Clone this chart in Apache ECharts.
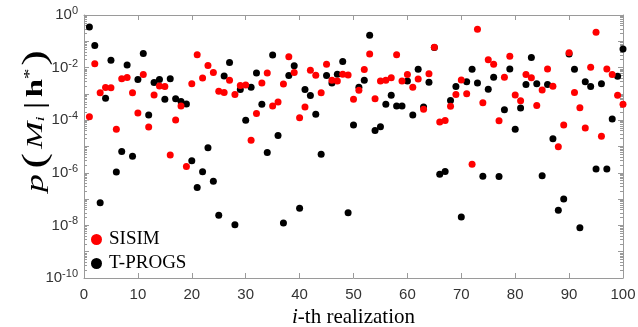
<!DOCTYPE html>
<html>
<head>
<meta charset="utf-8">
<script src="https://cdn.jsdelivr.net/npm/echarts@6/dist/echarts.min.js"></script>
<style>
  html, body { margin: 0; padding: 0; background: #fff; }
  #chart { width: 638px; height: 327px; }
</style>
</head>
<body>
<div id="chart"></div>
<script>
// realization index 1..100
const realization = Array.from({ length: 100 }, (_, k) => k + 1);

// p(M_i | h*)
const sisim = [
  1.35e-4, 1.4e-2, 1.1e-3, 1.74e-3, 1.7e-3, 4.5e-5, 3.8e-3, 4.2e-3, 1.1e-3, 1.86e-4,
  5.5e-3, 5.5e-5, 9.1e-4, 2.0e-3, 1.9e-3, 4.7e-6, 1.02e-4, 3.5e-4, 1.74e-6, 2.45e-3,
  3.1e-2, 4.0e-3, 1.2e-2, 6.5e-3, 1.26e-3, 1.12e-3, 3.3e-3, 9.5e-4, 2.1e-3, 2.2e-3,
  1.74e-5, 1.78e-4, 2.6e-3, 6.3e-3, 3.5e-4, 4.9e-4, 2.4e-3, 2.6e-2, 6.5e-3, 1.23e-4,
  3.2e-4, 7.9e-3, 5.1e-3, 1.1e-3, 1.35e-2, 3.3e-3, 3.1e-3, 5.6e-3, 5.2e-3, 6.3e-4,
  1.38e-3, 8.5e-3, 3.3e-2, 6.5e-4, 3.1e-3, 3.3e-3, 4.1e-3, 3.1e-2, 3.1e-3, 5.5e-3,
  1.78e-3, 3.7e-3, 2.6e-4, 5.9e-3, 6.0e-2, 8.5e-5, 9.8e-5, 3.4e-4, 9.5e-4, 3.4e-3,
  1.02e-3, 2.1e-6, 2.9e-1, 4.6e-4, 2.0e-2, 1.35e-2, 9.5e-5, 4.3e-3, 2.7e-2, 9.1e-4,
  5.5e-4, 5.5e-3, 4.1e-3, 3.6e-4, 1.4e-3, 8.9e-3, 1.95e-3, 9.8e-6, 6.6e-5, 3.7e-2,
  1.12e-3, 3.0e-4, 5.1e-5, 1.02e-2, 2.2e-1, 2.45e-5, 8.9e-3, 5.5e-3, 8.9e-4, 4.0e-4
];
const tprogs = [
  3.5e-1, 6.9e-2, 7.2e-8, 6.9e-4, 1.9e-2, 1.07e-6, 6.5e-6, 1.26e-2, 4.3e-6, 3.5e-3,
  3.4e-2, 1.58e-4, 2.7e-3, 3.5e-3, 6.2e-4, 3.8e-3, 6.6e-4, 5.1e-4, 4.1e-4, 2.9e-6,
  2.75e-7, 1.1e-6, 8.9e-6, 4.8e-7, 2.45e-8, 4.8e-3, 1.55e-2, 1.07e-8, 1.48e-3, 1.0e-4,
  1.8e-3, 6.2e-3, 4.0e-4, 5.9e-6, 3.0e-2, 2.6e-5, 1.23e-8, 5.0e-3, 1.17e-2, 4.5e-8,
  1.48e-3, 8.7e-4, 1.7e-4, 5.1e-6, 5.0e-3, 2.6e-3, 5.6e-3, 1.7e-2, 3.0e-8, 6.6e-5,
  1.8e-3, 3.3e-3, 1.7e-1, 4.1e-5, 5.6e-5, 4.0e-4, 8.9e-4, 3.5e-4, 3.5e-4, 3.1e-3,
  1.58e-4, 8.7e-3, 3.2e-4, 2.75e-3, 5.8e-2, 8.9e-7, 1.12e-6, 5.6e-4, 1.9e-3, 2.1e-8,
  2.9e-3, 8.7e-3, 2.6e-3, 7.4e-7, 1.5e-3, 4.3e-3, 7.2e-7, 2.5e-4, 8.9e-3, 4.5e-5,
  2.9e-4, 2.3e-3, 2.4e-2, 2.45e-3, 7.8e-7, 2.3e-3, 1.95e-5, 3.8e-8, 1.0e-7, 3.3e-2,
  8.7e-3, 8.1e-9, 2.9e-3, 1.9e-3, 1.4e-6, 2.45e-3, 1.4e-6, 1.1e-4, 4.7e-3, 5.1e-2
];

const seriesNames = ['SISIM', 'T-PROGS'];
const xTicks = [0, 10, 20, 30, 40, 50, 60, 70, 80, 90, 100];
const yLabelValues = [1e-10, 1e-8, 1e-6, 1e-4, 1e-2, 1];
const yDecades = [1e-10, 1e-9, 1e-8, 1e-7, 1e-6, 1e-5, 1e-4, 1e-3, 1e-2, 1e-1, 1];
const minorMantissas = [2, 3, 4, 5, 6, 7, 8, 9];

const yMinor = [];
yDecades.slice(0, -1).forEach(d => minorMantissas.forEach(m => yMinor.push(d * m)));

const AXIS_COLOR = '#9a9a9a';
const LABEL_COLOR = '#333';
const SERIF = 'Liberation Serif';

function yAxisBase(extra) {
  return Object.assign({
    type: 'log',
    logBase: 10,
    min: 1e-10,
    max: 1,
    splitLine: { show: false },
    axisLabel: { show: false },
    axisLine: { show: false },
    axisTick: { show: false }
  }, extra);
}

const chart = echarts.init(document.getElementById('chart'), null, { renderer: 'canvas' });

chart.setOption({
  animation: false,
  backgroundColor: '#fff',
  grid: { left: 84, right: 15, top: 15, bottom: 49, containLabel: false, outerBoundsMode: 'none' },
  graphic: [
    {
      type: 'text',
      x: 36,
      y: 121,
      rotation: Math.PI / 2,
      scaleX: 1.42,
      scaleY: 1,
      silent: true,
      style: {
        text: '{p|p}{br|(}{m|M}{sub|i}{bar||}{h|h}{sup|*}{br2|)}',
        align: 'center',
        verticalAlign: 'middle',
        rich: {
          p: { fontFamily: SERIF, fontStyle: 'italic', fontSize: 25, fill: '#000', padding: [0, 4, 0, 0] },
          br: { fontFamily: SERIF, fontSize: 33, fill: '#000', padding: [0, 3, 0, 0] },
          m: { fontFamily: SERIF, fontStyle: 'italic', fontSize: 23, fill: '#000' },
          sub: { fontFamily: SERIF, fontStyle: 'italic', fontSize: 13, fill: '#000', padding: [10, 3, 0, 0] },
          bar: { fontFamily: SERIF, fontSize: 27, fill: '#000', padding: [0, 3, 0, 2] },
          h: { fontFamily: SERIF, fontWeight: 'bold', fontSize: 23, fill: '#000' },
          sup: { fontFamily: SERIF, fontSize: 15, fill: '#000', padding: [0, 2, 11, 0] },
          br2: { fontFamily: SERIF, fontSize: 33, fill: '#000' }
        }
      }
    }
  ],
  legend: {
    data: seriesNames,
    orient: 'vertical',
    left: 91,
    top: 230,
    padding: 0,
    itemGap: 5,
    icon: 'circle',
    itemWidth: 11,
    itemHeight: 11,
    textStyle: { fontFamily: SERIF, fontSize: 19, color: '#000', lineHeight: 16, padding: [0, 0, 0, 2] }
  },
  xAxis: [
    {
      type: 'value',
      position: 'bottom',
      min: 0, max: 100, interval: 10,
      name: '{i|i}{t|-th realization}',
      nameLocation: 'middle',
      nameGap: 27,
      nameTextStyle: {
        rich: {
          i: { fontFamily: SERIF, fontStyle: 'italic', fontSize: 21, color: '#000' },
          t: { fontFamily: SERIF, fontSize: 21, color: '#000' }
        }
      },
      axisLine: { show: true, lineStyle: { color: AXIS_COLOR, width: 1 } },
      axisTick: { show: true, inside: true, length: 5, lineStyle: { color: AXIS_COLOR },
                  customValues: xTicks },
      axisLabel: { show: true, margin: 9, color: LABEL_COLOR, fontFamily: 'Liberation Sans', fontSize: 15,
                   customValues: xTicks },
      splitLine: { show: false }
    },
    {
      type: 'value',
      position: 'top',
      min: 0, max: 100, interval: 10,
      axisLine: { show: true, lineStyle: { color: AXIS_COLOR, width: 1 } },
      axisTick: { show: true, inside: true, length: 5, lineStyle: { color: AXIS_COLOR } },
      axisLabel: { show: false },
      splitLine: { show: false }
    }
  ],
  yAxis: [
    yAxisBase({
      position: 'left',
      axisLine: { show: true, lineStyle: { color: AXIS_COLOR, width: 1 } },
      axisTick: { show: true, inside: true, length: 5, lineStyle: { color: AXIS_COLOR }, customValues: yDecades },
      axisLabel: {
        show: true,
        margin: 6,
        customValues: yLabelValues,
        formatter: function (v) {
          const e = Math.round(Math.log10(v));
          return '{b|10}{s|' + e + '}';
        },
        rich: {
          b: { fontFamily: 'Liberation Sans', fontSize: 15, color: LABEL_COLOR },
          s: { fontFamily: 'Liberation Sans', fontSize: 11, color: LABEL_COLOR, padding: [0, 0, 8, 0] }
        }
      }
    }),
    yAxisBase({
      position: 'left',
      axisTick: { show: true, inside: true, length: 3, lineStyle: { color: AXIS_COLOR }, customValues: yMinor }
    }),
    yAxisBase({
      position: 'right',
      axisLine: { show: true, lineStyle: { color: AXIS_COLOR, width: 1 } },
      axisTick: { show: true, inside: true, length: 5, lineStyle: { color: AXIS_COLOR }, customValues: yDecades }
    }),
    yAxisBase({
      position: 'right',
      axisTick: { show: true, inside: true, length: 3, lineStyle: { color: AXIS_COLOR }, customValues: yMinor }
    })
  ],
  series: [
    {
      name: 'T-PROGS',
      type: 'scatter',
      xAxisIndex: 0,
      yAxisIndex: 0,
      symbol: 'circle',
      symbolSize: 7,
      itemStyle: { color: '#000000', opacity: 1 },
      emphasis: { disabled: true },
      data: realization.map((x, k) => [x, tprogs[k]])
    },
    {
      name: 'SISIM',
      type: 'scatter',
      xAxisIndex: 0,
      yAxisIndex: 0,
      symbol: 'circle',
      symbolSize: 7,
      itemStyle: { color: '#ff0000', opacity: 1 },
      emphasis: { disabled: true },
      data: realization.map((x, k) => [x, sisim[k]])
    }
  ]
});
</script>
</body>
</html>
